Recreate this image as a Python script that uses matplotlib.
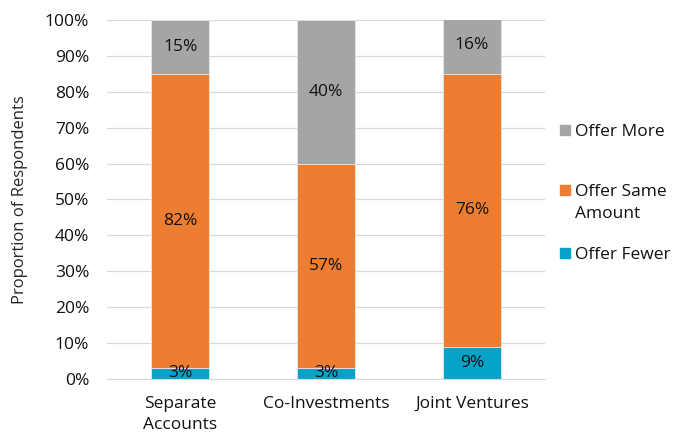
import matplotlib

matplotlib.use("Agg")
import matplotlib.pyplot as plt
from matplotlib.patches import Rectangle
from matplotlib.ticker import PercentFormatter

CATEGORIES = ["Separate\nAccounts", "Co-Investments", "Joint Ventures"]
OFFER_FEWER = [3, 3, 9]
OFFER_SAME = [82, 57, 76]
OFFER_MORE = [15, 40, 16]

SERIES = [
    ("Offer Fewer", OFFER_FEWER, "#05A2C7"),
    ("Offer Same\nAmount", OFFER_SAME, "#ED7D31"),
    ("Offer More", OFFER_MORE, "#A5A5A5"),
]

plt.rcParams["font.family"] = ["Open Sans", "DejaVu Sans"]
FS = 12.5
W, H = 683, 434

fig = plt.figure(figsize=(W / 100, H / 100), dpi=100)
ax = fig.add_axes([0.157, 0.127, 0.641, 0.827])

x = range(len(CATEGORIES))
bottom = [0] * len(CATEGORIES)
for label, values, color in SERIES:
    ax.bar(x, values, width=0.4, bottom=bottom, color=color,
           edgecolor="#E6E6E6", linewidth=0.6, label=label, zorder=2)
    for i, v in enumerate(values):
        ax.text(i, bottom[i] + v / 2, f"{v}%", ha="center", va="center",
                fontsize=FS, color="#111111", zorder=3)
    bottom = [b + v for b, v in zip(bottom, values)]

ax.set_xlim(-0.5, 2.5)
ax.set_ylim(0, 100)
ax.set_yticks(range(0, 101, 10))
ax.yaxis.set_major_formatter(PercentFormatter(decimals=0))
ax.set_xticks(list(x))
ax.set_xticklabels(CATEGORIES, fontsize=FS, color="#111111", linespacing=1.45)
ax.tick_params(axis="y", labelsize=FS, colors="#111111", length=0, pad=13)
ax.tick_params(axis="x", length=0, pad=12)
ax.grid(axis="y", color="#D9D9D9", linewidth=0.9)
ax.set_axisbelow(True)
for side in ("top", "right", "left"):
    ax.spines[side].set_visible(False)
ax.spines["bottom"].set_color("#D9D9D9")
ax.set_ylabel("Proportion of Respondents", fontsize=FS - 0.5, color="#262626", labelpad=12)

# legend on the right, swatch lined up with the first line of each label
legend_rows = [("Offer More", "#A5A5A5", 130), ("Offer Same\nAmount", "#ED7D31", 190),
               ("Offer Fewer", "#05A2C7", 253)]
for text, color, ypx in legend_rows:
    fig.patches.append(Rectangle((560 / W, 1 - (ypx + 5) / H), 10 / W, 10 / H,
                                 transform=fig.transFigure, color=color))
    fig.text(575 / W, 1 - (ypx - 6) / H, text, ha="left", va="top",
             fontsize=FS, color="#111111", linespacing=1.5)

fig.savefig("out.png", dpi=100, facecolor="white")
